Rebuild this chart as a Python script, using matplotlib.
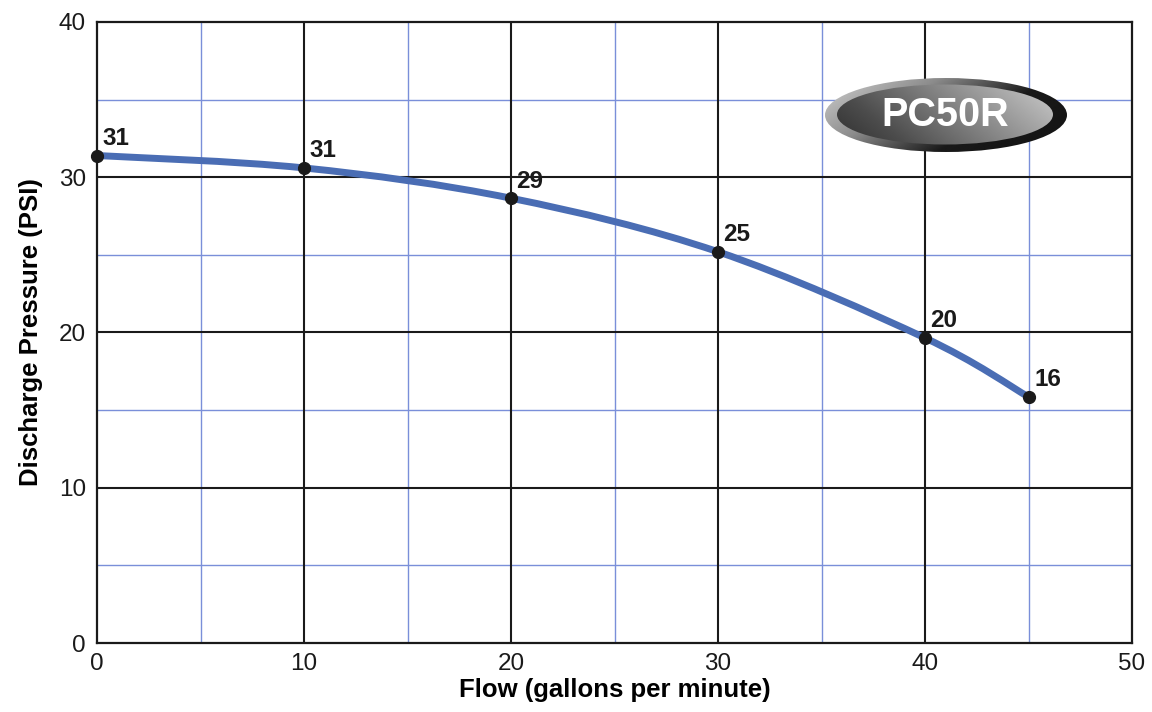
import numpy as np
import matplotlib
matplotlib.use("Agg")
import matplotlib.pyplot as plt
from matplotlib.path import Path
from matplotlib.patches import PathPatch, Ellipse

plt.rcParams['font.family'] = ['Liberation Sans', 'DejaVu Sans']

flow = [0, 10, 20, 30, 40, 45]
pressure = [31.4, 30.6, 28.65, 25.2, 19.65, 15.85]
labels = ["31", "31", "29", "25", "20", "16"]
xticks = [0, 10, 20, 30, 40, 50]
yticks = [0, 10, 20, 30, 40]
badge_text = "PC50R"

fig = plt.figure(figsize=(11.52, 7.12), dpi=100)
ax = fig.add_axes([97/1152, 1-643/712, (1132-97)/1152, (643-22)/712])
ax.set_xlim(0, 50)
ax.set_ylim(0, 40)

# grid
for v in np.arange(5, 50, 10):
    ax.axvline(v, color='#7a8fd9', lw=1.0, zorder=1)
for v in np.arange(5, 40, 10):
    ax.axhline(v, color='#7a8fd9', lw=1.0, zorder=1)
for v in xticks[1:-1]:
    ax.axvline(v, color='#1a1a1a', lw=1.5, zorder=2)
for v in yticks[1:-1]:
    ax.axhline(v, color='#1a1a1a', lw=1.5, zorder=2)
for s in ax.spines.values():
    s.set_linewidth(1.6)
    s.set_color('#1a1a1a')

ax.set_xticks(xticks)
ax.set_yticks(yticks)
ax.tick_params(axis='both', length=0, labelsize=17.5, colors='#1a1a1a')
ax.tick_params(axis='y', pad=8)
ax.tick_params(axis='x', pad=7)
ax.set_xlabel("Flow (gallons per minute)", fontsize=18.5, fontweight='bold', labelpad=2)
ax.set_ylabel("Discharge Pressure (PSI)", fontsize=18.5, fontweight='bold', labelpad=11)

# smooth curve (Catmull-Rom through the data points, as cubic Bezier)
pts = np.column_stack([flow, pressure]).astype(float)
verts = [tuple(pts[0])]
codes = [Path.MOVETO]
n = len(pts)
for i in range(n - 1):
    p0 = pts[i - 1] if i > 0 else pts[i]
    p1 = pts[i]
    p2 = pts[i + 1]
    p3 = pts[i + 2] if i + 2 < n else pts[i + 1]
    c1 = p1 + (p2 - p0) / 6.0
    c2 = p2 - (p3 - p1) / 6.0
    verts += [tuple(c1), tuple(c2), tuple(p2)]
    codes += [Path.CURVE4] * 3
ax.add_patch(PathPatch(Path(verts, codes), fill=False, edgecolor='#4a6db4',
                       lw=5.0, capstyle='round', zorder=3))
ax.plot(flow, pressure, 'o', color='#1a1a1a', ms=8.5, zorder=4, clip_on=False)
for x, y, t in zip(flow, pressure, labels):
    ax.annotate(t, (x, y), xytext=(4, 4), textcoords='offset points',
                ha='left', va='bottom', fontsize=17.5, fontweight='bold',
                color='#1a1a1a', zorder=5)

# badge
bx0, by0, bw, bh = 825, 78, 242, 74
bax = fig.add_axes([bx0/1152, 1-(by0+bh)/712, bw/1152, bh/712])
bax.set_xlim(0, bw)
bax.set_ylim(0, bh)
bax.axis('off')
xx, yy = np.meshgrid(np.linspace(0, 1, 300), np.linspace(1, 0, 100))
g_out = np.clip(0.75*xx + 0.35*(1-yy), 0, 1)
outer_cols = np.interp(g_out, [0, 0.35, 0.7, 1], [0.82, 0.55, 0.1, 0.08])
outer = Ellipse((bw/2, bh/2), bw, bh, facecolor='none', edgecolor='none')
bax.add_patch(outer)
im1 = bax.imshow(outer_cols, cmap='gray', vmin=0, vmax=1, extent=[0, bw, 0, bh],
                 aspect='auto', interpolation='bilinear')
im1.set_clip_path(outer)
g_in = np.clip(0.8*xx + 0.3*yy, 0, 1)
inner_cols = np.interp(g_in, [0, 0.3, 1], [0.15, 0.3, 0.78])
inner = Ellipse((bw/2 - 1, bh/2 + 0.5), 216, 60, facecolor='none', edgecolor='none')
bax.add_patch(inner)
im2 = bax.imshow(inner_cols, cmap='gray', vmin=0, vmax=1, extent=[0, bw, 0, bh],
                 aspect='auto', interpolation='bilinear')
im2.set_clip_path(inner)
bax.text(bw/2 - 1, bh/2, badge_text, color='white', fontsize=28.5, fontweight='bold',
         ha='center', va='center')

fig.savefig("out.png", dpi=100)
